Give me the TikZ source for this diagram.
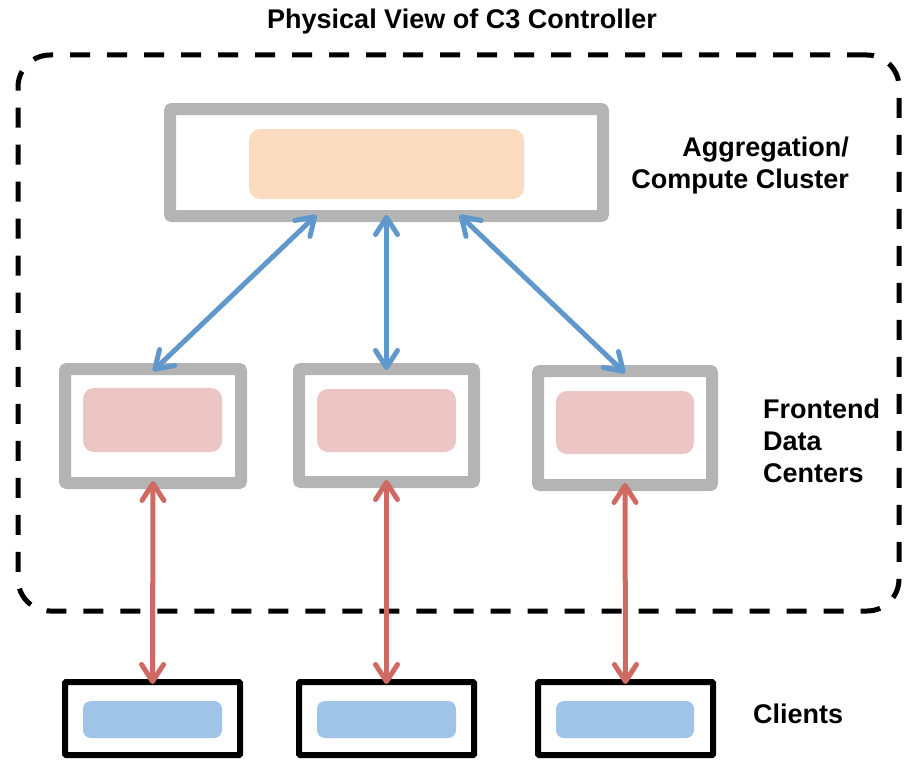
\documentclass[tikz,border=0pt]{standalone}
\usepackage{fontspec}
\setmainfont{Liberation Sans}
\usetikzlibrary{arrows.meta}
\definecolor{boxgray}{HTML}{B4B4B4}
\definecolor{aggfill}{HTML}{FBDCC0}
\definecolor{dcfill}{HTML}{EBC6C5}
\definecolor{clfill}{HTML}{A0C3E8}
\definecolor{linkblue}{HTML}{6198CB}
\definecolor{linkred}{HTML}{CF6A62}
\tikzset{
  x=1pt, y=-1pt,
  graybox/.style={draw=boxgray, line width=12pt, rounded corners=2pt, fill=white,
    inner sep=0pt, outer sep=0pt},
  clientbox/.style={draw=black, line width=6pt, rounded corners=1pt, fill=white,
    inner sep=0pt, outer sep=0pt},
  pad/.style={rounded corners=11pt, inner sep=0pt, outer sep=0pt},
  label/.style={font=\bfseries\fontsize{27}{32}\selectfont, inner sep=0pt},
  biarrow/.style={line width=5pt, line cap=round,
    {Straight Barb[length=17pt,width=22pt,round]}-{Straight Barb[length=17pt,width=22pt,round]}},
  bluelink/.style={biarrow, draw=linkblue},
  redlink/.style={biarrow, draw=linkred},
}
\begin{document}
\begin{tikzpicture}
\useasboundingbox (0,0) rectangle (905,760);

% controller boundary
\node[draw=black, line width=5pt, dash pattern=on 20pt off 17pt,
  rounded corners=32pt, inner sep=0pt, outer sep=0pt,
  minimum width=881pt, minimum height=556pt] (ctrl) at (458.5,333) {};

\node[label, anchor=base] (title) at (462,29) {Physical View of C3 Controller};

% aggregation / compute cluster
\node[graybox, minimum width=433pt, minimum height=107pt] (agg) at (386.5,162.5) {};
\node[pad, fill=aggfill, minimum width=275pt, minimum height=70pt] (aggin) at (386.5,164) {};

% frontend data centers
\node[graybox, minimum width=176pt, minimum height=114pt] (fe1) at (153,426) {};
\node[graybox, minimum width=175pt, minimum height=113pt] (fe2) at (386.5,425.5) {};
\node[graybox, minimum width=174pt, minimum height=114pt] (fe3) at (625,428) {};
\node[pad, fill=dcfill, minimum width=139pt, minimum height=64pt] (fe1in) at (152.5,420) {};
\node[pad, fill=dcfill, minimum width=139pt, minimum height=63pt] (fe2in) at (386.5,420.5) {};
\node[pad, fill=dcfill, minimum width=138pt, minimum height=63pt] (fe3in) at (625,422.5) {};

% clients
\node[clientbox, minimum width=175pt, minimum height=73pt] (cl1) at (152.5,718.5) {};
\node[clientbox, minimum width=175pt, minimum height=73pt] (cl2) at (386.5,718.5) {};
\node[clientbox, minimum width=175pt, minimum height=73pt] (cl3) at (625.5,718.5) {};
\node[pad, rounded corners=8pt, fill=clfill, minimum width=139pt, minimum height=37pt] (cl1in) at (152.5,719.5) {};
\node[pad, rounded corners=8pt, fill=clfill, minimum width=139pt, minimum height=37pt] (cl2in) at (386.5,719.5) {};
\node[pad, rounded corners=8pt, fill=clfill, minimum width=138pt, minimum height=37pt] (cl3in) at (625,719.5) {};

% links between tiers
\draw[bluelink] ([xshift=-70pt,yshift=1pt]agg.south) -- ([yshift=-2pt]fe1.north);
\draw[bluelink] ([yshift=1pt]agg.south) -- ([yshift=-1pt]fe2.north);
\draw[bluelink] ([xshift=73pt,yshift=1pt]agg.south) -- ([yshift=-2pt]fe3.north);
\draw[redlink] ([yshift=2pt]fe1.south) -- ([yshift=-2pt]cl1.north);
\draw[redlink] ([yshift=2pt]fe2.south) -- ([yshift=-2pt]cl2.north);
\draw[redlink] ([yshift=2pt]fe3.south) -- ([yshift=-2pt]cl3.north);

% tier labels (base anchor sits on the last line)
\node[label, align=right, anchor=base east] (agglabel) at (849,188) {Aggregation/\\Compute Cluster};
\node[label, align=left, anchor=base west] (felabel) at (763,482) {Frontend\\Data\\Centers};
\node[label, anchor=base west] (cllabel) at (753,723) {Clients};
\end{tikzpicture}
\end{document}
